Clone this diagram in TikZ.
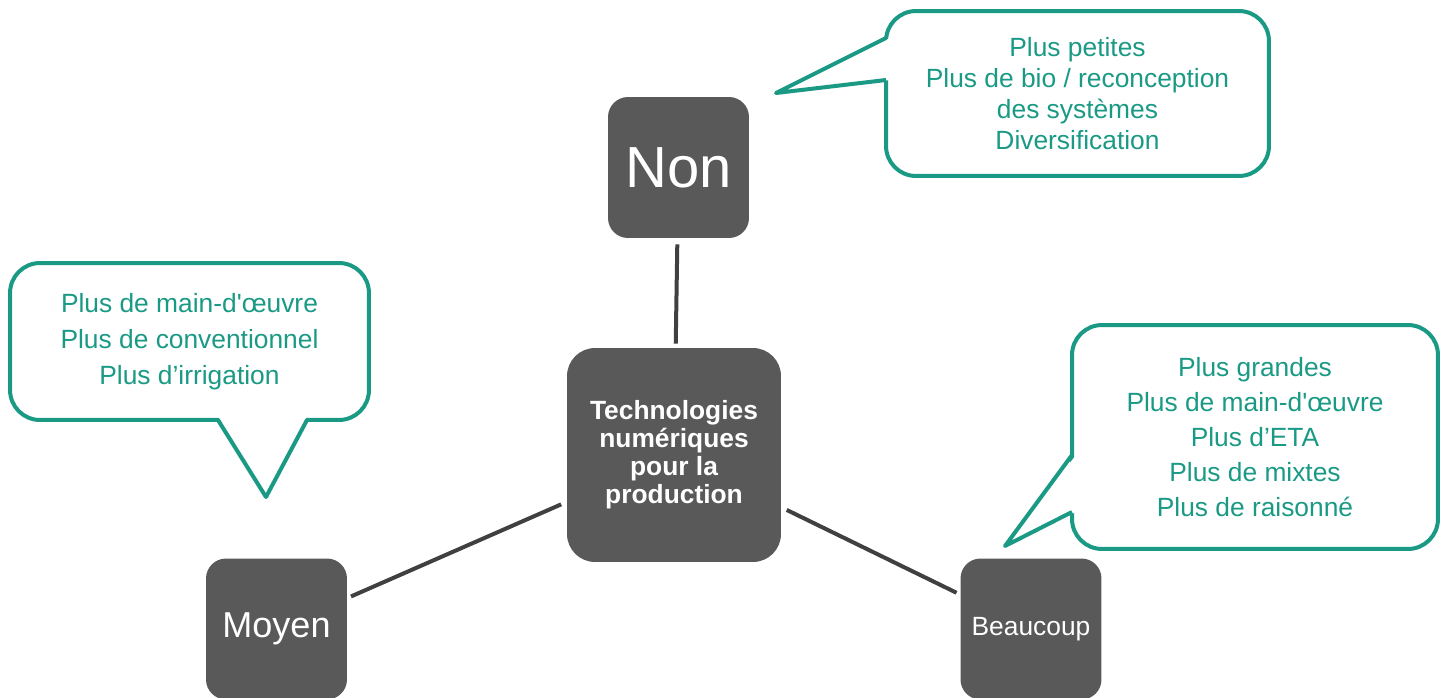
\documentclass[tikz,border=0pt]{standalone}
\usepackage{fontspec}
\setmainfont{Liberation Sans}
\definecolor{sarcelle}{HTML}{1A9A85}
\definecolor{ardoise}{HTML}{595959}
\definecolor{trait}{HTML}{404040}
\tikzset{
    boite/.style={fill=ardoise, text=white, rounded corners=0.4cm, minimum size=2.82cm, inner sep=0pt, align=center},
    bulle/.style={draw=sarcelle, fill=white, line width=0.08cm, rounded corners=0.6cm, text=sarcelle, align=center, inner sep=0pt},
    queue/.style={draw=sarcelle, line width=0.08cm, line join=round},
    lien/.style={draw=trait, line width=0.08cm, shorten <=0.12cm, shorten >=0.08cm},
}

\begin{document}
\begin{tikzpicture}[x=0.02cm,y=-0.02cm]
    \useasboundingbox (0,0) rectangle (1448,697);

    % les quatre boites
    \node[boite, minimum size=4.28cm, rounded corners=0.56cm, font={\bfseries\fontsize{15pt}{15.9pt}\selectfont}] (centre) at (674,455)
        {Technologies\\num\'eriques\\pour la\\production};
    \node[boite, font={\fontsize{33pt}{38pt}\selectfont}] (non) at (678.5,167.5) {Non};
    \node[boite, font={\fontsize{20.5pt}{24pt}\selectfont}] (moyen) at (276.5,629) {Moyen};
    \node[boite, font={\fontsize{15pt}{18pt}\selectfont}] (beaucoup) at (1031,629) {Beaucoup};

    \draw[lien] (non) -- (centre);
    \draw[lien] (centre) -- (moyen);
    \draw[lien] (centre) -- (beaucoup);

    % bulles
    \node[bulle, minimum width=7.66cm, minimum height=3.3cm, font={\fontsize{15pt}{17.6pt}\selectfont}] (bnon) at (1077.5,93.5)
        {Plus petites\\Plus de bio / reconception\\des syst\`emes\\Diversification};
    \fill[white] (890,38) -- (776,93) -- (890,80) -- cycle;
    \draw[queue] (886,38) -- (776,93) -- (886,80);

    \node[bulle, minimum width=7.18cm, minimum height=3.14cm, font={\fontsize{15pt}{20.5pt}\selectfont}] (bmoyen) at (189.5,341.5)
        {Plus de main-d\textquotesingle{\oe}uvre\\Plus de conventionnel\\Plus d’irrigation};
    \fill[white] (218,416) -- (266,497) -- (307,416) -- cycle;
    \draw[queue] (218,420) -- (266,497) -- (307,420);

    \node[bulle, minimum width=7.32cm, minimum height=4.48cm, font={\fontsize{15pt}{20pt}\selectfont}] (bbeaucoup) at (1255,437)
        {Plus grandes\\Plus de main-d\textquotesingle{\oe}uvre\\Plus d’ETA\\Plus de mixtes\\Plus de raisonn\'e};
    \fill[white] (1076,455) -- (1005,546) -- (1076,512) -- cycle;
    \draw[queue] (1072,455) -- (1005,546) -- (1072,512);
\end{tikzpicture}
\end{document}
